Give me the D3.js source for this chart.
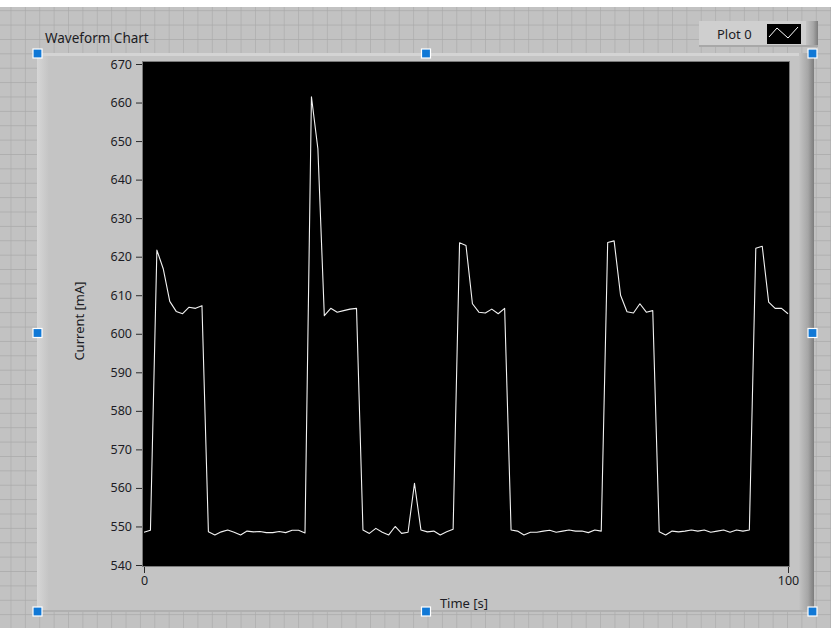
<!DOCTYPE html>
<html>
<head>
<meta charset="utf-8">
<script src="https://cdn.jsdelivr.net/npm/d3@7"></script>
<style>
  body { margin: 0; background: #fff; }
  svg { display: block; font-family: "Segoe UI", "Noto Sans", sans-serif; }
</style>
</head>
<body>
<div class="panel"></div>
<script>
// waveform chart, t0 = 0, dt = 1 s
var chartTitle = 'Waveform Chart';
var legendLabel = 'Plot 0';
var xLabel = 'Time [s]';
var yLabel = 'Current [mA]';
var t0 = 0;
var dt = 1;
var currentMA = [
  548.5, 549.0, 621.7, 616.8, 608.4, 605.8, 605.2, 606.9, 606.6, 607.3,
  548.6, 547.8, 548.6, 549.1, 548.5, 547.8, 548.8, 548.6, 548.7, 548.4,
  548.4, 548.7, 548.4, 549.0, 549.0, 548.3, 661.5, 648.0, 604.7, 606.6,
  605.6, 606.0, 606.4, 606.6, 549.1, 548.2, 549.5, 548.5, 547.8, 550.0,
  548.2, 548.5, 561.2, 549.1, 548.6, 548.8, 547.8, 548.6, 549.3, 623.6,
  622.9, 607.8, 605.6, 605.4, 606.4, 605.2, 606.6, 549.1, 548.8, 547.8,
  548.5, 548.5, 548.8, 549.0, 548.5, 548.8, 549.1, 548.8, 548.8, 548.4,
  549.1, 548.8, 623.7, 624.1, 610.0, 605.7, 605.4, 607.8, 605.6, 606.0,
  548.6, 547.8, 548.8, 548.6, 548.8, 549.1, 548.8, 549.1, 548.5, 548.8,
  549.1, 548.5, 549.1, 548.8, 549.1, 622.2, 622.7, 608.2, 606.6, 606.6,
  605.2
];
var yTicks = [540, 550, 560, 570, 580, 590, 600, 610, 620, 630, 640, 650, 660, 670];
var xTicks = [0, 100];
var yDomain = [540, 670];
var xDomain = [0, 100];

var W = 831, H = 628;
var plot = { left: 143, right: 789, top: 62, bottom: 566 };

var svg = d3.select('.panel').append('svg')
  .attr('width', W)
  .attr('height', H);

var defs = svg.append('defs');

// front panel grid
var pat = defs.append('pattern')
  .attr('id', 'grid')
  .attr('patternUnits', 'userSpaceOnUse')
  .attr('x', 10.5).attr('y', 10.2)
  .attr('width', 14.38).attr('height', 14.38);
pat.append('rect').attr('width', 14.38).attr('height', 14.38).attr('fill', '#c2c2c2');
pat.append('path')
  .attr('d', 'M0,0H14.38M0,0V14.38')
  .attr('stroke', '#a9a9a9').attr('stroke-width', 1.2);

var bevelR = defs.append('linearGradient').attr('id', 'bevelR');
bevelR.append('stop').attr('offset', '0%').attr('stop-color', '#c3c3c3');
bevelR.append('stop').attr('offset', '60%').attr('stop-color', '#a6a6a6');
bevelR.append('stop').attr('offset', '100%').attr('stop-color', '#7c7c7c');

var bevelL = defs.append('linearGradient').attr('id', 'bevelL');
bevelL.append('stop').attr('offset', '0%').attr('stop-color', '#d6d6d6');
bevelL.append('stop').attr('offset', '100%').attr('stop-color', '#c4c4c4');

defs.append('clipPath').attr('id', 'plotClip')
  .append('rect')
  .attr('x', plot.left).attr('y', plot.top)
  .attr('width', plot.right - plot.left).attr('height', plot.bottom - plot.top);

svg.append('rect').attr('width', W).attr('height', H).attr('fill', 'url(#grid)');
svg.append('rect').attr('width', W).attr('height', 7).attr('fill', '#ffffff');

// chart body
svg.append('rect')
  .attr('x', 37).attr('y', 53).attr('width', 777).attr('height', 559)
  .attr('fill', '#c4c4c4');
svg.append('rect')
  .attr('x', 37).attr('y', 53).attr('width', 12).attr('height', 559)
  .attr('fill', 'url(#bevelL)');
svg.append('rect')
  .attr('x', 37).attr('y', 53).attr('width', 777).attr('height', 3)
  .attr('fill', '#d4d4d4');
svg.append('rect')
  .attr('x', 799).attr('y', 53).attr('width', 15).attr('height', 559)
  .attr('fill', 'url(#bevelR)');
svg.append('rect')
  .attr('x', 37).attr('y', 610).attr('width', 777).attr('height', 2)
  .attr('fill', '#b0b0b0');

// label above the chart
svg.append('text')
  .attr('x', 45).attr('y', 43)
  .attr('font-size', 13.5)
  .attr('fill', '#1c1c24')
  .text(chartTitle);

// legend
var legend = svg.append('g');
legend.append('rect')
  .attr('x', 699).attr('y', 21).attr('width', 119).attr('height', 26)
  .attr('fill', '#cfcfcf');
legend.append('rect')
  .attr('x', 806).attr('y', 21).attr('width', 12).attr('height', 26)
  .attr('fill', 'url(#bevelR)');
legend.append('rect')
  .attr('x', 699).attr('y', 45).attr('width', 119).attr('height', 2)
  .attr('fill', '#a8a8a8');
legend.append('text')
  .attr('x', 717).attr('y', 39)
  .attr('font-size', 13)
  .attr('fill', '#1c1c24')
  .text(legendLabel);
legend.append('rect')
  .attr('x', 767).attr('y', 24).attr('width', 34).attr('height', 20)
  .attr('fill', '#000');
legend.append('path')
  .attr('d', 'M769,37L777,28L788,38L798,27')
  .attr('fill', 'none')
  .attr('stroke', '#fff')
  .attr('stroke-width', 1);

// scales
var x = d3.scaleLinear().domain(xDomain).range([144, 788]);
var y = d3.scaleLinear().domain(yDomain).range([565, 64]);

// plot area
svg.append('rect')
  .attr('x', plot.left - 0.5).attr('y', plot.top - 0.5)
  .attr('width', plot.right - plot.left + 1).attr('height', plot.bottom - plot.top + 1)
  .attr('fill', '#000')
  .attr('stroke', '#7a7a7a');

var line = d3.line()
  .x(function(d, i) { return x(t0 + i * dt); })
  .y(function(d) { return y(d); });

svg.append('path')
  .datum(currentMA)
  .attr('clip-path', 'url(#plotClip)')
  .attr('d', line)
  .attr('fill', 'none')
  .attr('stroke', '#f2f2f2')
  .attr('stroke-width', 1.1)
  .attr('stroke-linejoin', 'round');

// axes
var yAxis = svg.append('g')
  .attr('transform', 'translate(142,0)')
  .call(d3.axisLeft(y).tickValues(yTicks).tickSize(6).tickPadding(4).tickFormat(d3.format('d')));
var xAxis = svg.append('g')
  .attr('transform', 'translate(0,567)')
  .call(d3.axisBottom(x).tickValues(xTicks).tickSize(6).tickPadding(3).tickFormat(d3.format('d')));

[yAxis, xAxis].forEach(function(a) {
  a.select('.domain').remove();
  a.selectAll('line').attr('stroke', '#2a2a2a');
  a.selectAll('text')
    .attr('fill', '#1c1c24')
    .attr('font-size', 12.5)
    .attr('font-family', '"Segoe UI", "Noto Sans", sans-serif');
});

svg.append('text')
  .attr('x', 464).attr('y', 608)
  .attr('text-anchor', 'middle')
  .attr('font-size', 13)
  .attr('fill', '#1c1c24')
  .text(xLabel);

svg.append('text')
  .attr('transform', 'translate(84,321) rotate(-90)')
  .attr('text-anchor', 'middle')
  .attr('font-size', 13)
  .attr('fill', '#1c1c24')
  .text(yLabel);

// selection handles
var handles = [[37.5, 53.5], [426, 53.5], [812.5, 53.5], [37.5, 333], [812.5, 333],
  [37.5, 611.5], [426, 611.5], [812.5, 611.5]];
svg.selectAll('.handle')
  .data(handles)
  .enter().append('rect')
  .attr('class', 'handle')
  .attr('x', function(d) { return d[0] - 4.5; })
  .attr('y', function(d) { return d[1] - 4.5; })
  .attr('width', 9).attr('height', 9)
  .attr('fill', '#1078d6')
  .attr('stroke', '#ffffff')
  .attr('stroke-width', 1.2);
</script>
</body>
</html>
